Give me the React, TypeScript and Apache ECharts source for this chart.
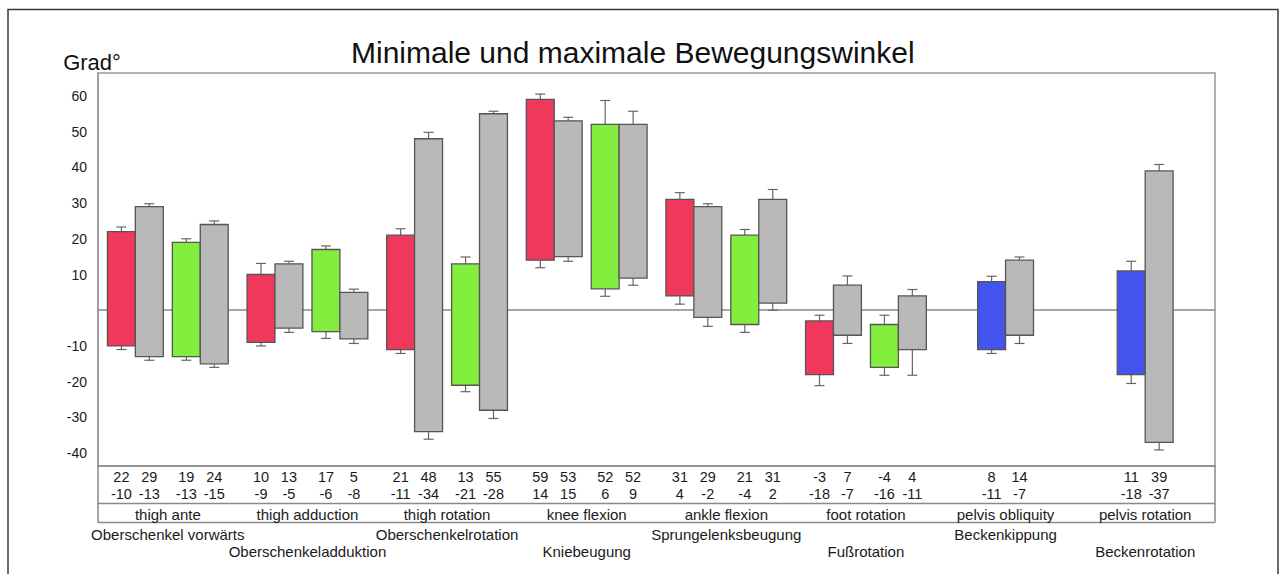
import React, { useEffect, useRef } from 'react';
import * as echarts from 'echarts';

// ---------- data ----------
const categories = [
  'thigh ante',
  'thigh adduction',
  'thigh rotation',
  'knee flexion',
  'ankle flexion',
  'foot rotation',
  'pelvis obliquity',
  'pelvis rotation',
];
const germanLabels = [
  'Oberschenkel vorwärts',
  'Oberschenkeladduktion',
  'Oberschenkelrotation',
  'Kniebeugung',
  'Sprungelenksbeugung',
  'Fußrotation',
  'Beckenkippung',
  'Beckenrotation',
];
const boxCategory = [0, 0, 0, 0, 1, 1, 1, 1, 2, 2, 2, 2, 3, 3, 3, 3, 4, 4, 4, 4, 5, 5, 5, 5, 6, 6, 7, 7];
const boxKind = [
  'red', 'gray', 'green', 'gray',
  'red', 'gray', 'green', 'gray',
  'red', 'gray', 'green', 'gray',
  'red', 'gray', 'green', 'gray',
  'red', 'gray', 'green', 'gray',
  'red', 'gray', 'green', 'gray',
  'blue', 'gray',
  'blue', 'gray',
];
const boxMax = [22, 29, 19, 24, 10, 13, 17, 5, 21, 48, 13, 55, 59, 53, 52, 52, 31, 29, 21, 31, -3, 7, -4, 4, 8, 14, 11, 39];
const boxMin = [-10, -13, -13, -15, -9, -5, -6, -8, -11, -34, -21, -28, 14, 15, 6, 9, 4, -2, -4, 2, -18, -7, -16, -11, -11, -7, -18, -37];
const whiskerHigh = [23.3, 29.8, 20, 25, 13.1, 13.7, 18, 5.9, 22.8, 49.8, 14.9, 55.7, 60.5, 54, 58.7, 55.7, 32.9, 29.8, 22.6, 33.8, -1.4, 9.6, -1.4, 5.8, 9.5, 14.9, 13.7, 40.8];
const whiskerLow = [-11, -14, -14, -16, -10, -6.2, -7.9, -9.3, -12.1, -36.1, -22.8, -30.3, 11.9, 13.7, 3.9, 7, 1.7, -4.5, -6.2, 0, -21.1, -9.3, -18.2, -18.2, -12.1, -9.3, -20.5, -39.1];
const yTickValues = [60, 50, 40, 30, 20, 10, -10, -20, -30, -40];
const yMin = -43.6;
const yMax = 66.4;

// ---------- styles / layout ----------
const FONT = "'Liberation Sans', Arial, Helvetica, sans-serif";
const COLORS: Record<string, string> = {
  red: '#f0375c',
  green: '#84ee3e',
  blue: '#4354ef',
  gray: '#b9b9b9',
};
const W = 1281;
const H = 574;
const GRID_LEFT = 98;
const GRID_RIGHT = 66;
const GRID_TOP = 73;
const GRID_BOTTOM = 108;
const TABLE_LEFT = GRID_LEFT;
const TABLE_RIGHT = W - GRID_RIGHT;
const TABLE_TOP = H - GRID_BOTTOM;
const TABLE_MID = TABLE_TOP + 37.5;
const TABLE_BOTTOM = TABLE_TOP + 56.5;

export default function App() {
  const ref = useRef<HTMLDivElement>(null);

  useEffect(() => {
    document.body.style.margin = '0';
    if (!ref.current) return;
    const chart = echarts.init(ref.current, undefined, { renderer: 'svg' });

    const counts: number[] = categories.map((_, ci) => boxCategory.filter((c) => c === ci).length);
    const slots: number[] = boxCategory.map((c, i) => boxCategory.slice(0, i).filter((x) => x === c).length);
    const data = boxCategory.map((c, i) => [c, slots[i], counts[c], boxMin[i], boxMax[i], whiskerLow[i], whiskerHigh[i]]);

    const renderItem = (params: any, api: any) => {
      const cat = api.value(0);
      const slot = api.value(1);
      const n = api.value(2);
      const lo = api.value(3);
      const hi = api.value(4);
      const wLo = api.value(5);
      const wHi = api.value(6);
      const kind = boxKind[params.dataIndex];
      const band = api.size([1, 0])[0];
      const bw = band * 0.2;
      const gap = band * 0.065;
      let off = (slot - (n - 1) / 2) * bw;
      if (n === 4) off += slot < 2 ? -gap / 2 : gap / 2;
      const cx = api.coord([cat, 0])[0] + off;
      const yHi = api.coord([cat, hi])[1];
      const yLo = api.coord([cat, lo])[1];
      const yWHi = api.coord([cat, wHi])[1];
      const yWLo = api.coord([cat, wLo])[1];
      const cs = params.coordSys;
      const tableTop = cs.y + cs.height;
      const wStyle = { stroke: '#666', lineWidth: 1.2 };
      const capHalf = 5;
      return {
        type: 'group',
        children: [
          { type: 'line', shape: { x1: cx, y1: yWHi, x2: cx, y2: yHi }, style: wStyle },
          { type: 'line', shape: { x1: cx - capHalf, y1: yWHi, x2: cx + capHalf, y2: yWHi }, style: wStyle },
          { type: 'line', shape: { x1: cx, y1: yWLo, x2: cx, y2: yLo }, style: wStyle },
          { type: 'line', shape: { x1: cx - capHalf, y1: yWLo, x2: cx + capHalf, y2: yWLo }, style: wStyle },
          {
            type: 'rect',
            shape: { x: cx - bw / 2, y: yHi, width: bw, height: yLo - yHi },
            style: { fill: COLORS[kind], stroke: '#555', lineWidth: 1.3 },
          },
          {
            type: 'text',
            x: cx,
            y: tableTop + 11,
            style: { text: String(hi), fill: '#1a1a1a', fontSize: 14.5, fontFamily: FONT, align: 'center', verticalAlign: 'middle' },
          },
          {
            type: 'text',
            x: cx,
            y: tableTop + 28,
            style: { text: String(lo), fill: '#1a1a1a', fontSize: 14.5, fontFamily: FONT, align: 'center', verticalAlign: 'middle' },
          },
        ],
      };
    };

    const lineStyle = { stroke: '#8a8a8a', lineWidth: 1.5 };

    chart.setOption({
      animation: false,
      backgroundColor: '#ffffff',
      title: {
        text: 'Minimale und maximale Bewegungswinkel',
        left: 346,
        top: 32,
        textStyle: { fontSize: 30, fontWeight: 'normal', color: '#111', fontFamily: FONT },
      },
      grid: {
        left: GRID_LEFT,
        right: GRID_RIGHT,
        top: GRID_TOP,
        bottom: GRID_BOTTOM,
        show: true,
        borderColor: '#999',
        borderWidth: 1.5,
        containLabel: false,
      },
      xAxis: [
        {
          type: 'category',
          data: categories,
          position: 'bottom',
          axisLine: { onZero: false, lineStyle: { color: '#8a8a8a', width: 1.5 } },
          axisTick: { show: false },
          splitLine: { show: false },
          axisLabel: {
            interval: 0,
            margin: 40,
            color: '#1a1a1a',
            fontFamily: FONT,
            formatter: (value: string, index: number) =>
              `{en|${value}}\n{${index % 2 === 0 ? 'de' : 'de2'}|${germanLabels[index]}}`,
            rich: {
              en: { fontSize: 15, lineHeight: 16, fontFamily: FONT, color: '#1a1a1a' },
              de: { fontSize: 15, lineHeight: 24, fontFamily: FONT, color: '#1a1a1a' },
              de2: { fontSize: 15, lineHeight: 58, fontFamily: FONT, color: '#1a1a1a' },
            },
          },
        },
        {
          type: 'category',
          data: categories,
          axisLine: { show: true, onZero: true, lineStyle: { color: '#8a8a8a', width: 1.5 } },
          axisTick: { show: false },
          axisLabel: { show: false },
          splitLine: { show: false },
        },
      ],
      yAxis: {
        type: 'value',
        min: yMin,
        max: yMax,
        name: 'Grad°',
        nameLocation: 'end',
        nameGap: 0,
        nameTextStyle: { fontSize: 22, color: '#111', fontFamily: FONT, padding: [0, 12, 0, 0] },
        axisLine: { show: true, lineStyle: { color: '#999', width: 1.5 } },
        axisTick: { show: false },
        splitLine: { show: false },
        axisLabel: {
          customValues: yTickValues,
          margin: 11,
          color: '#1a1a1a',
          fontSize: 14,
          fontFamily: FONT,
        },
      },
      graphic: [
        {
          type: 'rect',
          silent: true,
          shape: { x: 8, y: 9.5, width: 1270, height: 620 },
          style: { fill: 'none', stroke: '#3a3a3a', lineWidth: 1.5 },
        },
        { type: 'line', silent: true, shape: { x1: TABLE_LEFT, y1: TABLE_MID, x2: TABLE_RIGHT, y2: TABLE_MID }, style: lineStyle },
        { type: 'line', silent: true, shape: { x1: TABLE_LEFT, y1: TABLE_BOTTOM, x2: TABLE_RIGHT, y2: TABLE_BOTTOM }, style: lineStyle },
        { type: 'line', silent: true, shape: { x1: TABLE_LEFT, y1: TABLE_TOP, x2: TABLE_LEFT, y2: TABLE_BOTTOM }, style: lineStyle },
        { type: 'line', silent: true, shape: { x1: TABLE_RIGHT, y1: TABLE_TOP, x2: TABLE_RIGHT, y2: TABLE_BOTTOM }, style: lineStyle },
      ],
      series: [
        {
          type: 'custom',
          xAxisIndex: 0,
          yAxisIndex: 0,
          renderItem,
          encode: { x: 0, y: [3, 4, 5, 6] },
          data,
          z: 5,
        },
      ],
    });

    return () => chart.dispose();
  }, []);

  return <div ref={ref} style={{ width: W, height: H }} />;
}
